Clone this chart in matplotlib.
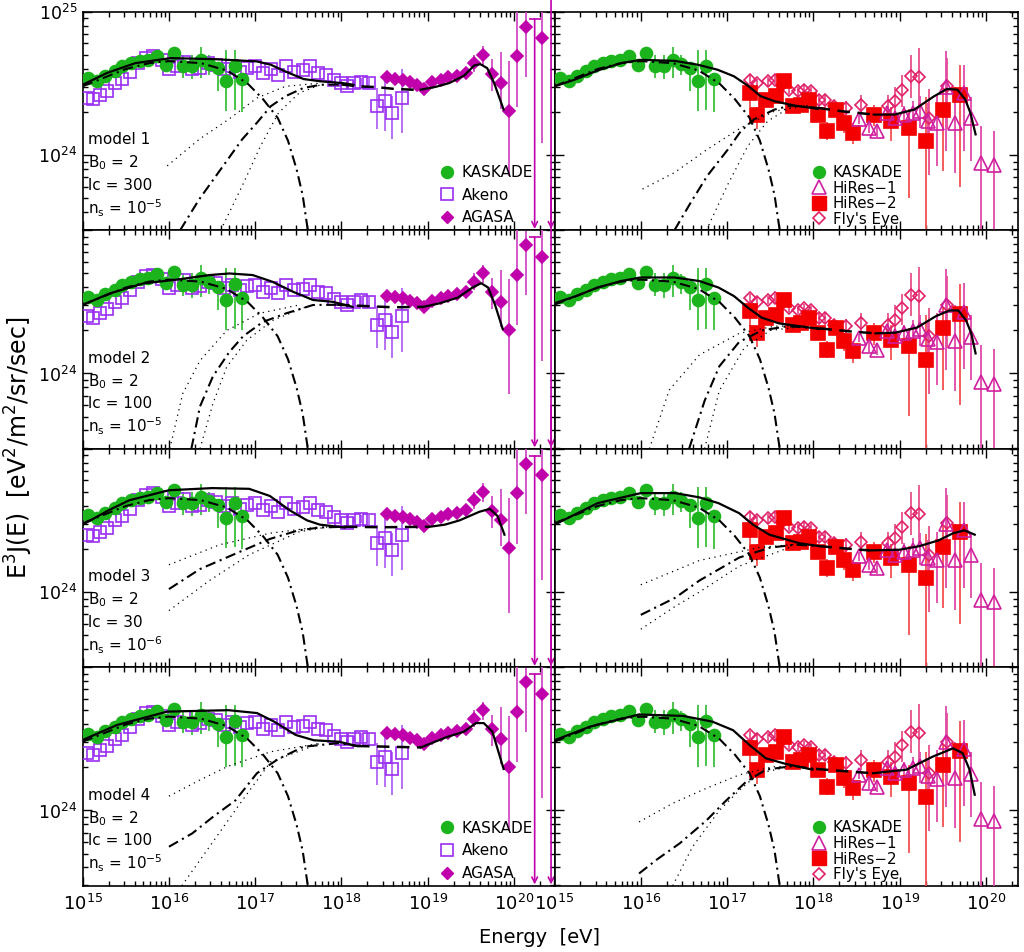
import numpy as np
import matplotlib
matplotlib.use('Agg')
import matplotlib.pyplot as plt
from matplotlib.lines import Line2D

plt.rcParams['font.family'] = ['DejaVu Sans']
plt.rcParams['mathtext.default'] = 'regular'

# ---------------- data (log10 E [eV], log10 E^3 J) ----------------
kas_logE = [15.06, 15.17, 15.26, 15.37, 15.46, 15.56, 15.66, 15.76, 15.86, 15.97,
            16.06, 16.16, 16.27, 16.37, 16.47, 16.57, 16.66, 16.76, 16.85]
kas_logF = [24.537, 24.514, 24.553, 24.583, 24.618, 24.641, 24.657, 24.664, 24.692, 24.63,
            24.711, 24.618, 24.618, 24.664, 24.637, 24.606, 24.514, 24.623, 24.53]
kas_lo = [0, 0, 0, 0, 0, 0, 0, 0, 0, 0, 0, 0.08, 0.09, 0.13, 0.08, 0.16, 0.21, 0.31, 0.23]
kas_hi = [0, 0, 0, 0, 0, 0, 0, 0, 0, 0, 0, 0.08, 0.08, 0.09, 0.06, 0.04, 0.22, 0.11, 0.02]

akeno_logE = [15.05, 15.12, 15.20, 15.28, 15.37, 15.46, 15.55, 15.64, 15.73, 15.82, 15.92,
              16.00, 16.09, 16.18, 16.27, 16.36, 16.45, 16.55, 16.64, 16.73, 16.82, 16.91,
              17.00, 17.09, 17.18, 17.27, 17.36, 17.45, 17.55, 17.64, 17.73, 17.82, 17.91,
              18.00, 18.07, 18.15, 18.23, 18.32, 18.41, 18.51, 18.59, 18.70]
akeno_logF = [24.40, 24.39, 24.42, 24.45, 24.50, 24.53, 24.58, 24.64, 24.68, 24.69, 24.66,
              24.60, 24.62, 24.65, 24.60, 24.61, 24.64, 24.63, 24.60, 24.62, 24.58, 24.61,
              24.62, 24.57, 24.60, 24.56, 24.62, 24.58, 24.59, 24.62, 24.57, 24.56, 24.52,
              24.50, 24.48, 24.50, 24.51, 24.50, 24.34, 24.375, 24.29, 24.40]
akeno_lo = [0] * 34 + [0.02, 0.02, 0.03, 0.04, 0.16, 0.21, 0.18, 0.25]
akeno_hi = [0] * 34 + [0.02, 0.02, 0.03, 0.04, 0.13, 0.18, 0.12, 0.20]

agasa_logE = [18.53, 18.62, 18.71, 18.80, 18.88, 18.96, 19.05, 19.15, 19.24, 19.34,
              19.44, 19.54, 19.64, 19.75, 19.85, 19.94, 20.04, 20.14, 20.33]
agasa_logF = [24.542, 24.532, 24.525, 24.509, 24.491, 24.461, 24.509, 24.525, 24.544, 24.553,
              24.572, 24.641, 24.699, 24.567, 24.502, 24.306, 24.688, 24.896, 24.815]
agasa_lo = [0.02, 0.02, 0.02, 0.02, 0.02, 0.02, 0.02, 0.03, 0.03, 0.03,
            0.04, 0.06, 0.07, 0.12, 0.18, 0.45, 0.35, 0.35, 0.73]
agasa_hi = [0.02, 0.02, 0.02, 0.02, 0.02, 0.02, 0.02, 0.03, 0.03, 0.03,
            0.04, 0.06, 0.06, 0.10, 0.22, 0.35, 0.31, 0.10, 0.20]
agasa_ul_logE = [20.24, 20.43]
agasa_ul_top = [24.95, 25.3]

hires1_logE = [18.53, 18.64, 18.74, 18.85, 18.95, 19.05, 19.15, 19.24, 19.33, 19.43,
               19.54, 19.64, 19.75, 19.83, 19.94, 20.09]
hires1_logF = [24.248, 24.19, 24.167, 24.294, 24.26, 24.28, 24.294, 24.31, 24.24, 24.22,
               24.477, 24.226, 24.43, 24.256, 23.942, 23.93]
hires1_lo = [0.03, 0.04, 0.04, 0.05, 0.05, 0.06, 0.10, 0.12, 0.15, 0.30,
             0.45, 0.35, 0.40, 0.30, 1.0, 1.0]
hires1_hi = [0.03, 0.04, 0.04, 0.05, 0.05, 0.06, 0.08, 0.10, 0.12, 0.20,
             0.25, 0.25, 0.20, 0.15, 0.26, 0.24]

hires2_logE = [17.26, 17.35, 17.45, 17.57, 17.66, 17.76, 17.86, 17.95, 18.05, 18.16,
               18.26, 18.36, 18.46, 18.70, 18.90, 19.11, 19.31, 19.50, 19.70]
hires2_logF = [24.433, 24.282, 24.387, 24.41, 24.514, 24.34, 24.352, 24.387, 24.282, 24.167,
               24.317, 24.225, 24.155, 24.282, 24.236, 24.19, 24.097, 24.317, 24.417]
hires2_lo = [0.10, 0.10, 0.05, 0.05, 0.04, 0.04, 0.04, 0.04, 0.05, 0.06,
             0.05, 0.07, 0.08, 0.08, 0.14, 0.49, 0.65, 0.43, 0.64]
hires2_hi = [0.05, 0.05, 0.04, 0.04, 0.04, 0.04, 0.04, 0.04, 0.05, 0.06,
             0.05, 0.06, 0.07, 0.07, 0.10, 0.13, 0.31, 0.15, 0.21]

fly_logE = [17.26, 17.35, 17.47, 17.55, 17.64, 17.72, 17.82, 17.89, 17.97, 18.07,
            18.14, 18.24, 18.38, 18.55, 18.86, 18.95, 19.03, 19.13, 19.23, 19.34, 19.55]
fly_logF = [24.525, 24.502, 24.514, 24.525, 24.491, 24.456, 24.444, 24.456, 24.444, 24.387,
            24.387, 24.34, 24.329, 24.352, 24.34, 24.375, 24.456, 24.549, 24.544, 24.259, 24.479]
fly_lo = [0.03, 0.03, 0.03, 0.03, 0.03, 0.03, 0.03, 0.03, 0.03, 0.04,
          0.04, 0.04, 0.05, 0.07, 0.08, 0.10, 0.12, 0.15, 0.20, 0.40, 0.30]
fly_hi = [0.03, 0.03, 0.03, 0.03, 0.03, 0.03, 0.03, 0.03, 0.03, 0.04,
          0.04, 0.04, 0.05, 0.07, 0.08, 0.10, 0.10, 0.15, 0.20, 0.20, 0.20]

# galactic component (same in every panel)
gal = [(15.0, 24.48), (15.25, 24.54), (15.5, 24.60), (15.77, 24.641), (16.0, 24.655),
       (16.37, 24.641), (16.67, 24.59), (16.91, 24.50), (17.09, 24.39), (17.26, 24.26),
       (17.38, 24.10), (17.48, 23.90), (17.55, 23.72), (17.61, 23.475)]

# model curves: total (two pieces), extragalactic, dashed link, two dotted bounds
l1_tot_a = [(15.0, 24.49), (15.28, 24.572), (15.61, 24.641), (16.02, 24.676), (16.52, 24.669),
            (17.02, 24.653), (17.18, 24.63), (17.35, 24.583), (17.56, 24.53), (17.76, 24.514),
            (18.01, 24.502), (18.14, 24.49)]
l1_tot_b = [(18.92, 24.456), (19.09, 24.475), (19.25, 24.502), (19.42, 24.553), (19.54, 24.625),
            (19.61, 24.634), (19.69, 24.606), (19.77, 24.502), (19.88, 24.317)]
l1_egal = [(16.13, 23.475), (16.35, 23.69), (16.60, 23.90), (16.85, 24.11), (17.02, 24.225),
           (17.18, 24.34), (17.35, 24.41), (17.56, 24.468), (17.76, 24.49), (18.0, 24.492)]
l1_dash = [(18.0, 24.492), (18.2, 24.479), (18.4, 24.474), (18.6, 24.462), (18.8, 24.456), (18.92, 24.456)]
l1_dot_hi = [(15.98, 23.924), (16.35, 24.109), (16.69, 24.248), (17.02, 24.398), (17.35, 24.479), (17.76, 24.502)]
l1_dot_lo = [(16.60, 23.475), (16.85, 23.785), (17.06, 24.06), (17.27, 24.294), (17.51, 24.433), (17.76, 24.49)]

r1_tot_a = [(15.0, 24.479), (15.23, 24.525), (15.50, 24.59), (15.77, 24.641), (16.0, 24.664),
            (16.39, 24.657), (16.66, 24.63), (16.89, 24.595), (17.08, 24.549), (17.24, 24.484),
            (17.39, 24.41), (17.55, 24.375), (17.78, 24.345), (18.05, 24.322)]
r1_tot_b = [(18.70, 24.282), (18.94, 24.282), (19.17, 24.317), (19.40, 24.41), (19.55, 24.461),
            (19.67, 24.456), (19.76, 24.387), (19.82, 24.294), (19.88, 24.144)]
r1_egal = [(16.39, 23.475), (16.58, 23.669), (16.77, 23.854), (17.01, 24.039), (17.16, 24.167),
           (17.31, 24.248), (17.55, 24.317), (17.74, 24.345), (18.05, 24.329)]
r1_dash = [(18.05, 24.329), (18.32, 24.306), (18.70, 24.282)]
r1_dot_hi = [(16.02, 23.762), (16.39, 23.877), (16.77, 24.039), (17.16, 24.19), (17.55, 24.306), (17.93, 24.345)]
r1_dot_lo = [(16.76, 23.475), (17.01, 23.796), (17.24, 24.063), (17.47, 24.236), (17.74, 24.336), (17.93, 24.345)]

l2_tot_a = [(15.0, 24.478), (15.31, 24.558), (15.70, 24.628), (16.09, 24.655), (16.47, 24.687),
            (16.70, 24.698), (16.97, 24.687), (17.20, 24.64), (17.44, 24.57), (17.67, 24.513),
            (17.90, 24.50), (18.13, 24.465)]
l2_tot_b = [(18.95, 24.465), (19.14, 24.49), (19.35, 24.53), (19.52, 24.60), (19.62, 24.63),
            (19.70, 24.60), (19.78, 24.48), (19.87, 24.31)]
l2_egal = [(16.26, 23.475), (16.36, 23.77), (16.51, 23.98), (16.70, 24.15), (16.86, 24.26),
           (17.09, 24.36), (17.36, 24.42), (17.67, 24.478), (17.95, 24.48)]
l2_dash = [(17.95, 24.48), (18.3, 24.47), (18.6, 24.462), (18.95, 24.465)]
l2_dot_hi = [(16.01, 23.475), (16.16, 23.86), (16.36, 24.09), (16.67, 24.30), (17.05, 24.42), (17.51, 24.478)]
l2_dot_lo = [(16.36, 23.475), (16.51, 23.79), (16.67, 24.046), (16.90, 24.23), (17.20, 24.37), (17.59, 24.465)]

r2_tot_a = [(15.0, 24.49), (15.25, 24.54), (15.5, 24.60), (15.77, 24.645), (16.0, 24.67),
            (16.39, 24.67), (16.68, 24.645), (16.9, 24.60), (17.08, 24.54), (17.24, 24.46),
            (17.40, 24.39), (17.6, 24.35), (17.84, 24.33), (18.07, 24.31)]
r2_tot_b = [(18.72, 24.28), (18.95, 24.285), (19.2, 24.32), (19.42, 24.40), (19.58, 24.44),
            (19.68, 24.44), (19.77, 24.37), (19.83, 24.28), (19.88, 24.14)]
r2_egal = [(16.56, 23.475), (16.74, 23.81), (16.91, 24.05), (17.14, 24.22), (17.4, 24.30),
           (17.7, 24.33), (18.07, 24.315)]
r2_dash = [(18.07, 24.315), (18.4, 24.295), (18.72, 24.28)]
r2_dot_hi = [(16.10, 23.475), (16.33, 23.885), (16.68, 24.13), (17.14, 24.28), (17.55, 24.33), (17.9, 24.335)]
r2_dot_lo = [(16.74, 23.475), (16.91, 23.88), (17.2, 24.18), (17.5, 24.30), (17.9, 24.33)]

l3_tot_a = [(15.0, 24.47), (15.3, 24.57), (15.54, 24.64), (16.0, 24.71), (16.5, 24.725),
            (16.93, 24.72), (17.17, 24.67), (17.40, 24.57), (17.6, 24.50), (17.75, 24.47), (18.04, 24.45)]
l3_tot_b = [(19.02, 24.455), (19.2, 24.47), (19.37, 24.50), (19.60, 24.56), (19.72, 24.58),
            (19.81, 24.53), (19.89, 24.40)]
l3_egal = [(16.0, 24.02), (16.36, 24.16), (16.82, 24.28), (17.17, 24.37), (17.5, 24.43),
           (17.75, 24.45), (18.04, 24.455)]
l3_dash = [(18.04, 24.455), (18.5, 24.452), (19.02, 24.455)]
l3_dot_hi = [(16.0, 24.19), (16.59, 24.33), (17.17, 24.41), (17.75, 24.455)]
l3_dot_lo = [(16.0, 23.87), (16.47, 24.08), (16.93, 24.26), (17.51, 24.42), (17.85, 24.455)]

r3_tot_a = [(15.0, 24.47), (15.5, 24.62), (16.0, 24.69), (16.4, 24.69), (16.68, 24.66),
            (16.9, 24.62), (17.14, 24.55), (17.3, 24.47), (17.49, 24.40), (17.84, 24.34), (18.07, 24.32)]
r3_tot_b = [(18.65, 24.29), (19.0, 24.295), (19.23, 24.32), (19.45, 24.36), (19.62, 24.41),
            (19.75, 24.43), (19.87, 24.40)]
r3_egal = [(16.0, 23.84), (16.4, 23.96), (16.68, 24.08), (17.14, 24.24), (17.5, 24.31),
           (17.8, 24.33), (18.07, 24.32)]
r3_dash = [(18.07, 24.32), (18.35, 24.305), (18.65, 24.29)]
r3_dot_hi = [(16.0, 24.05), (16.68, 24.22), (17.37, 24.31), (17.84, 24.335)]
r3_dot_lo = [(16.0, 23.74), (16.4, 23.9), (16.68, 24.0), (17.14, 24.18), (17.72, 24.31)]

l4_tot_a = [(15.0, 24.492), (15.4, 24.597), (15.98, 24.69), (16.69, 24.70), (17.02, 24.68),
            (17.22, 24.62), (17.47, 24.527), (17.68, 24.49), (17.97, 24.48), (18.18, 24.45)]
l4_tot_b = [(18.92, 24.44), (19.21, 24.51), (19.42, 24.55), (19.56, 24.61), (19.65, 24.61),
            (19.75, 24.55), (19.88, 24.29)]
l4_egal = [(16.0, 23.747), (16.27, 23.84), (16.52, 23.96), (16.77, 24.07), (17.02, 24.26),
           (17.27, 24.36), (17.56, 24.445), (17.97, 24.47), (18.18, 24.45)]
l4_dash = [(18.18, 24.45), (18.55, 24.445), (18.92, 24.44)]
l4_dot_hi = [(16.0, 24.10), (16.35, 24.21), (16.69, 24.31), (17.18, 24.41), (17.76, 24.47)]
l4_dot_lo = [(16.15, 23.475), (16.52, 23.79), (16.85, 24.07), (17.18, 24.34), (17.76, 24.47)]

r4_tot_a = [(15.0, 24.49), (15.41, 24.585), (15.98, 24.67), (16.49, 24.66), (16.83, 24.62),
            (17.07, 24.56), (17.26, 24.457), (17.45, 24.364), (17.68, 24.325), (17.99, 24.285)]
r4_tot_b = [(18.69, 24.26), (19.08, 24.285), (19.38, 24.375), (19.62, 24.434), (19.73, 24.40),
            (19.81, 24.285), (19.87, 24.11)]
r4_egal = [(15.98, 23.56), (16.18, 23.655), (16.45, 23.77), (16.76, 23.93), (16.99, 24.07),
           (17.22, 24.20), (17.45, 24.285), (17.76, 24.31), (18.03, 24.29)]
r4_dash = [(18.03, 24.29), (18.35, 24.275), (18.69, 24.26)]
r4_dot_hi = [(15.98, 23.92), (16.37, 24.05), (16.76, 24.155), (17.14, 24.248), (17.53, 24.305), (17.85, 24.31)]
r4_dot_lo = [(16.37, 23.475), (16.60, 23.747), (16.91, 24.0), (17.14, 24.14), (17.37, 24.26), (17.72, 24.305)]

model_names = ['model 1', 'model 2', 'model 3', 'model 4']
b0_vals = [2, 2, 2, 2]
lc_vals = [300, 100, 30, 100]
ns_exp = [-5, -5, -6, -5]

left_curves = [
    (l1_tot_a, l1_tot_b, l1_egal, l1_dash, l1_dot_hi, l1_dot_lo),
    (l2_tot_a, l2_tot_b, l2_egal, l2_dash, l2_dot_hi, l2_dot_lo),
    (l3_tot_a, l3_tot_b, l3_egal, l3_dash, l3_dot_hi, l3_dot_lo),
    (l4_tot_a, l4_tot_b, l4_egal, l4_dash, l4_dot_hi, l4_dot_lo),
]
right_curves = [
    (r1_tot_a, r1_tot_b, r1_egal, r1_dash, r1_dot_hi, r1_dot_lo),
    (r2_tot_a, r2_tot_b, r2_egal, r2_dash, r2_dot_hi, r2_dot_lo),
    (r3_tot_a, r3_tot_b, r3_egal, r3_dash, r3_dot_hi, r3_dot_lo),
    (r4_tot_a, r4_tot_b, r4_egal, r4_dash, r4_dot_hi, r4_dot_lo),
]

# ---------------- styles ----------------
C_KAS, C_KAS_E = '#1cb41c', '#3cbf3c'
C_AKE, C_AKE_E = '#9a2ef2', '#b266f5'
C_AGA, C_AGA_E = '#bf00ab', '#d04cc6'
C_HR1, C_HR1_E = '#cf1f9f', '#e04aa8'
C_HR2, C_HR2_E = '#f40000', '#f45050'
C_FLY, C_FLY_E = '#e01f66', '#e8508a'

SOLID = dict(lw=1.6, ls='-')
DASHDOT = dict(lw=1.5, ls=(0, (5, 2.2, 1, 2.2)))
DOTTED = dict(lw=0.9, ls=(0, (1, 3.5)))
DASHED = dict(lw=1.8, ls=(0, (5, 3)))

YMIN, YMAX = 10 ** 23.475, 1e25


def points(ax, lx, ly, lo, hi, mk, ms, fc, ec, bc, z=3):
    lx, ly, lo, hi = map(np.asarray, (lx, ly, lo, hi))
    x, y = 10 ** lx, 10 ** ly
    yerr = [y - 10 ** (ly - lo), 10 ** (ly + hi) - y]
    ax.errorbar(x, y, yerr=yerr, fmt='none', ecolor=bc, elinewidth=1.3, capsize=0, zorder=z)
    ax.plot(x, y, mk, ms=ms, mfc=fc, mec=ec, mew=1.2, ls='none', zorder=z + 0.5)


def curve(ax, pts, style):
    a = np.asarray(pts)
    ax.plot(10 ** a[:, 0], 10 ** a[:, 1], color='k', zorder=6, **style)


def draw_curves(ax, c):
    tot_a, tot_b, egal, dash, dot_hi, dot_lo = c
    curve(ax, dot_hi, DOTTED)
    curve(ax, dot_lo, DOTTED)
    curve(ax, gal, DASHDOT)
    curve(ax, egal, DASHDOT)
    curve(ax, dash, DASHED)
    curve(ax, tot_a, SOLID)
    curve(ax, tot_b, SOLID)


def style_axis(ax, xmax):
    ax.set_xscale('log')
    ax.set_yscale('log')
    ax.set_xlim(1e15, xmax)
    ax.set_ylim(YMIN, YMAX)
    ax.set_xticks([1e15, 1e16, 1e17, 1e18, 1e19, 1e20])
    ax.set_yticks([1e24, 1e25])
    ax.tick_params(which='both', direction='in', top=True, right=True, width=1)
    ax.tick_params(which='major', length=6.5)
    ax.tick_params(which='minor', length=3.5)
    for s in ax.spines.values():
        s.set_linewidth(1.2)


fig = plt.figure(figsize=(10.24, 9.52), dpi=100)
X0, XM, X1 = 82.7 / 1024, 554.5 / 1024, 1018.3 / 1024
YT, YB = 1 - 11.7 / 952, 1 - 885.7 / 952
RH = (YT - YB) / 4

xlabels = [r'$10^{%d}$' % k for k in range(15, 21)]

for r in range(4):
    bottom = YT - (r + 1) * RH
    axL = fig.add_axes([X0, bottom, XM - X0, RH])
    axR = fig.add_axes([XM, bottom, X1 - XM, RH])
    style_axis(axL, 10 ** 20.47)
    style_axis(axR, 10 ** 20.375)

    # left: KASKADE, Akeno, AGASA
    points(axL, akeno_logE, akeno_logF, akeno_lo, akeno_hi, 's', 9, 'none', C_AKE, C_AKE_E)
    points(axL, kas_logE, kas_logF, kas_lo, kas_hi, 'o', 8.6, C_KAS, C_KAS, C_KAS_E)
    points(axL, agasa_logE, agasa_logF, agasa_lo, agasa_hi, 'D', 6.3, C_AGA, C_AGA, C_AGA_E)
    for e, top in zip(agasa_ul_logE, agasa_ul_top):
        axL.annotate('', xy=(10 ** e, YMIN * 1.02), xytext=(10 ** e, 10 ** top),
                     arrowprops=dict(arrowstyle='->', color=C_AGA, lw=1.2,
                                     shrinkA=0, shrinkB=0, mutation_scale=10), zorder=3)
        axL.plot([10 ** e], [10 ** top], '_', ms=8, mew=1.2, color=C_AGA, zorder=3)
    draw_curves(axL, left_curves[r])

    # right: KASKADE, HiRes-1, HiRes-2, Fly's Eye
    points(axR, kas_logE, kas_logF, kas_lo, kas_hi, 'o', 8.6, C_KAS, C_KAS, C_KAS_E)
    points(axR, fly_logE, fly_logF, fly_lo, fly_hi, 'D', 6.2, 'none', C_FLY, C_FLY_E)
    points(axR, hires2_logE, hires2_logF, hires2_lo, hires2_hi, 's', 10.5, C_HR2, C_HR2, C_HR2_E)
    points(axR, hires1_logE, hires1_logF, hires1_lo, hires1_hi, '^', 9.5, 'none', C_HR1, C_HR1_E)
    draw_curves(axR, right_curves[r])

    # y tick labels only on the left column
    axL.set_yticklabels([r'$10^{24}$', r'$10^{25}$' if r == 0 else ''], fontsize=12.5)
    axL.tick_params(axis='y', which='both', labelleft=True, pad=4)
    axR.tick_params(axis='y', which='both', labelleft=False)
    if r == 3:
        axL.set_xticklabels(xlabels, fontsize=13)
        axR.set_xticklabels(xlabels, fontsize=13)
        axL.tick_params(axis='x', pad=6)
        axR.tick_params(axis='x', pad=6)
    else:
        axL.set_xticklabels([])
        axR.set_xticklabels([])

    # model parameters
    lines = [model_names[r], r'B$_0$ = %d' % b0_vals[r], 'lc = %d' % lc_vals[r],
             r'n$_s$ = 10$^{%d}$' % ns_exp[r]]
    for k, t in enumerate(lines):
        axL.text(0.011, 0.413 - 0.104 * k, t, transform=axL.transAxes, fontsize=11,
                 va='center', ha='left')

    if r in (0, 3):
        hl = [Line2D([], [], marker='o', ls='none', ms=8.6, mfc=C_KAS, mec=C_KAS),
              Line2D([], [], marker='s', ls='none', ms=9, mfc='none', mec=C_AKE, mew=1.2),
              Line2D([], [], marker='D', ls='none', ms=6.3, mfc=C_AGA, mec=C_AGA)]
        axL.legend(hl, ['KASKADE', 'Akeno', 'AGASA'], loc='lower right',
                   bbox_to_anchor=(0.955, 0.022), frameon=False, fontsize=11,
                   handlelength=0.9, handletextpad=0.5, labelspacing=0.5,
                   borderpad=0, borderaxespad=0)
        hr = [Line2D([], [], marker='o', ls='none', ms=8.6, mfc=C_KAS, mec=C_KAS),
              Line2D([], [], marker='^', ls='none', ms=9.5, mfc='none', mec=C_HR1, mew=1.2),
              Line2D([], [], marker='s', ls='none', ms=10, mfc=C_HR2, mec=C_HR2),
              Line2D([], [], marker='D', ls='none', ms=6.2, mfc='none', mec=C_FLY, mew=1.2)]
        axR.legend(hr, ['KASKADE', 'HiRes\u22121', 'HiRes\u22122', "Fly's Eye"], loc='lower left',
                   bbox_to_anchor=(0.555, 0.016), frameon=False, fontsize=10.8,
                   handlelength=0.9, handletextpad=0.5, labelspacing=0.04,
                   borderpad=0, borderaxespad=0)

fig.text(0.527, 0.015, 'Energy  [eV]', ha='center', va='center', fontsize=14)
fig.text(0.018, 0.53, r'E$^3$J(E)  [eV$^2$/m$^2$/sr/sec]', rotation=90,
         ha='center', va='center', fontsize=17)

fig.savefig('out.png', dpi=100)
